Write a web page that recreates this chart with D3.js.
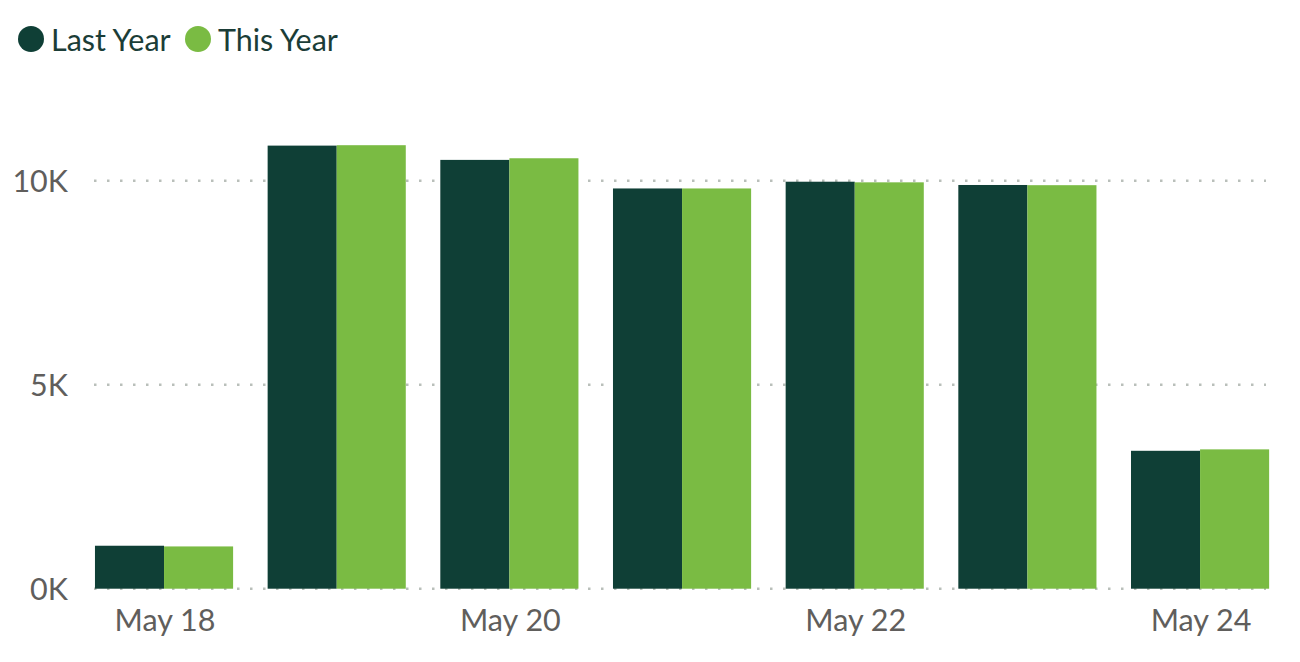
<!DOCTYPE html>
<html>
<head>
<meta charset="utf-8">
<script src="https://cdn.jsdelivr.net/npm/d3@7"></script>
<style>
  body { margin: 0; background: #fff; }
  svg { display: block; font-family: Lato, "Open Sans", sans-serif; }
</style>
</head>
<body>
<div id="chart"></div>
<script>
// chart values
const days = ["May 18", "May 19", "May 20", "May 21", "May 22", "May 23", "May 24"];
const lastYear = [1053, 10860, 10510, 9810, 9975, 9895, 3380];
const thisYear = [1036, 10870, 10550, 9810, 9960, 9890, 3415];
const seriesNames = ["Last Year", "This Year"];
const yTicks = [0, 5000, 10000];
const xTickLabels = ["May 18", "May 20", "May 22", "May 24"];

const colors = { "Last Year": "#0F3F36", "This Year": "#7ABB43" };

const width = 1300, height = 662;
const margins = { top: 180.7, bottom: 73, left: 77.7, right: 13.6 };

const svg = d3.select("#chart").append("svg")
  .attr("width", width)
  .attr("height", height);

const rows = days.map((d, i) => ({ day: d, "Last Year": lastYear[i], "This Year": thisYear[i] }));

const x = d3.scaleBand()
  .domain(days)
  .range([margins.left, width - margins.right])
  .paddingInner(0.2)
  .paddingOuter(0.1);

const xInner = d3.scaleBand()
  .domain(seriesNames)
  .range([0, x.bandwidth()]);

const y = d3.scaleLinear()
  .domain([0, 10000])
  .range([height - margins.bottom - 0.3, margins.top]);

// dotted gridlines
svg.append("g")
  .selectAll("line")
  .data(yTicks)
  .join("line")
  .attr("x1", 94)
  .attr("x2", 1266)
  .attr("y1", d => y(d))
  .attr("y2", d => y(d))
  .attr("stroke", "#b9bfba")
  .attr("stroke-width", 2.5)
  .attr("stroke-dasharray", "2.5,10.5");

// y labels
svg.append("g")
  .selectAll("text")
  .data(yTicks)
  .join("text")
  .attr("x", 68)
  .attr("y", d => y(d))
  .attr("dy", "0.37em")
  .attr("text-anchor", "end")
  .attr("fill", "#605E5C")
  .attr("font-size", 30.5)
  .text(d => d3.format("d")(d / 1000) + "K");

// bars
const groups = svg.append("g")
  .selectAll("g")
  .data(rows)
  .join("g")
  .attr("transform", d => `translate(${x(d.day)},0)`);

groups.selectAll("rect")
  .data(d => seriesNames.map(s => ({ key: s, value: d[s] })))
  .join("rect")
  .attr("x", d => xInner(d.key))
  .attr("width", xInner.bandwidth())
  .attr("y", d => y(d.value))
  .attr("height", d => y(0) - y(d.value))
  .attr("fill", d => colors[d.key]);

// x labels (every other day)
svg.append("g")
  .selectAll("text")
  .data(xTickLabels)
  .join("text")
  .attr("x", d => x(d) + x.bandwidth() / 2 + 1)
  .attr("y", 631)
  .attr("text-anchor", "middle")
  .attr("fill", "#605E5C")
  .attr("font-size", 30.5)
  .text(d => d);

// legend
const legendX = [31, 198];
const legend = svg.append("g")
  .selectAll("g")
  .data(seriesNames)
  .join("g")
  .attr("transform", (d, i) => `translate(${legendX[i]},39)`);

legend.append("circle")
  .attr("r", 13)
  .attr("fill", d => colors[d]);

legend.append("text")
  .attr("x", 20)
  .attr("y", 12)
  .attr("fill", "#1B3D37")
  .attr("font-size", 30.5)
  .text(d => d);
</script>
</body>
</html>
